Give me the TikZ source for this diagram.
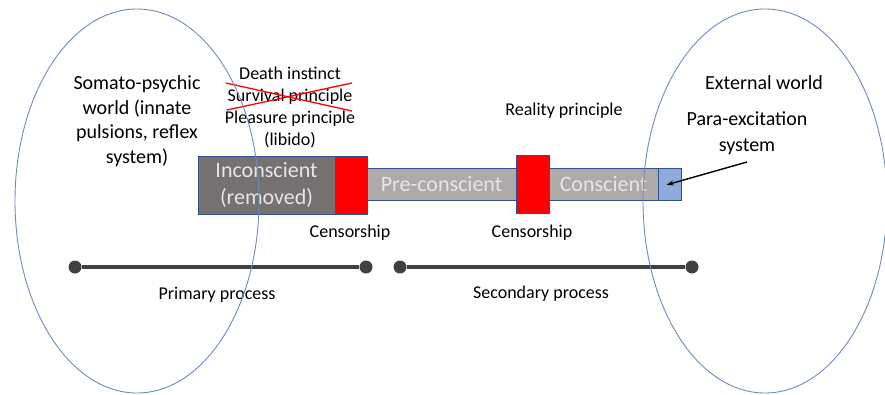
\documentclass[tikz,border=0pt]{standalone}
\usepackage{fontspec}
\setmainfont{Carlito}
\usetikzlibrary{arrows.meta}
\definecolor{incfill}{HTML}{767171}
\definecolor{barfill}{HTML}{AEAAAA}
\definecolor{boxedge}{HTML}{2F528F}
\definecolor{bluefill}{HTML}{8FAADC}
\definecolor{elledge}{HTML}{6F8AC0}
\definecolor{lighttext}{HTML}{E7E6E6}
\definecolor{procgray}{HTML}{404040}
\tikzset{
  fs/.style 2 args={font=\fontsize{#1}{#2}\selectfont},
  box/.style={draw=boxedge, line width=0.8pt, inner sep=0pt, rectangle},
  incbox/.style={box, fill=incfill, text=lighttext, align=center, fs={22}{27}},
  redbox/.style={box, fill=red},
  barbox/.style={box, fill=barfill, text=lighttext, fs={22}{26}},
  bluebox/.style={box, fill=bluefill},
  lbl/.style={text=black, align=center, inner sep=0pt},
  ell/.style={draw=elledge, line width=0.9pt},
  dot/.style={circle, fill=procgray, inner sep=0pt, minimum size=13pt},
  procline/.style={draw=procgray, line width=3.4pt},
  cross/.style={draw=red, line width=1.3pt},
}
\begin{document}
\begin{tikzpicture}[x=1pt, y=-1pt]
\useasboundingbox (0,0) rectangle (885,394);
% boxes
\node[incbox, minimum width=137pt, minimum height=58pt] (inc) at (266.5,185) {Inconscient\\(removed)};
\node[redbox, minimum width=32pt, minimum height=58pt] (red1) at (351,185) {};
\node[barbox, minimum width=149pt, minimum height=32pt] (pre) at (441.5,184) {Pre-conscient};
\node[redbox, minimum width=33pt, minimum height=58pt] (red2) at (532.5,184) {};
\node[barbox, minimum width=109pt, minimum height=32pt] (con) at (603.5,184) {Conscient};
\node[bluebox, minimum width=23pt, minimum height=32pt] (pe) at (669.5,184) {};
% labels
\node[lbl, fs={20}{24.5}] (soma) at (137,121) {Somato-psychic\\world (innate\\pulsions, reflex\\system)};
\node[lbl, fs={18}{22}] (death) at (290,107) {Death instinct\\Survival principle\\Pleasure principle\\(libido)};
\node[lbl, fs={18}{22}] (real) at (564,111) {Reality principle};
\node[lbl, fs={20}{24}] (ext) at (764,83) {External world};
\node[lbl, fs={20}{26}] (para) at (747,133) {Para-excitation\\system};
\node[lbl, fs={18}{22}] (cens1) at (350,233) {Censorship};
\node[lbl, fs={18}{22}] (cens2) at (532,233) {Censorship};
\node[lbl, fs={18}{22}] (prim) at (217,295) {Primary process};
\node[lbl, fs={18}{22}] (sec) at (541,294) {Secondary process};
% cross over survival principle
\coordinate (c1) at (226,83);
\coordinate (c2) at (352,111);
\coordinate (c3) at (227,110);
\coordinate (c4) at (352,83);
\draw[cross] (c1) -- (c2);
\draw[cross] (c3) -- (c4);
% process lines
\node[dot] (p1) at (75,267) {};
\node[dot] (p2) at (366,267) {};
\node[dot] (p3) at (400,267) {};
\node[dot] (p4) at (692,267) {};
\draw[procline] (p1) -- (p2);
\draw[procline] (p3) -- (p4);
% arrow
\coordinate (atail) at (747,162);
\draw[-{Stealth[length=7pt,width=5pt]}, line width=1.4pt, shorten >=-3pt] (atail) -- (pe.center);
% ellipses
\draw[ell] (137,201) ellipse [x radius=122pt, y radius=192pt];
\draw[ell] (765,201) ellipse [x radius=122pt, y radius=192pt];
\end{tikzpicture}
\end{document}
